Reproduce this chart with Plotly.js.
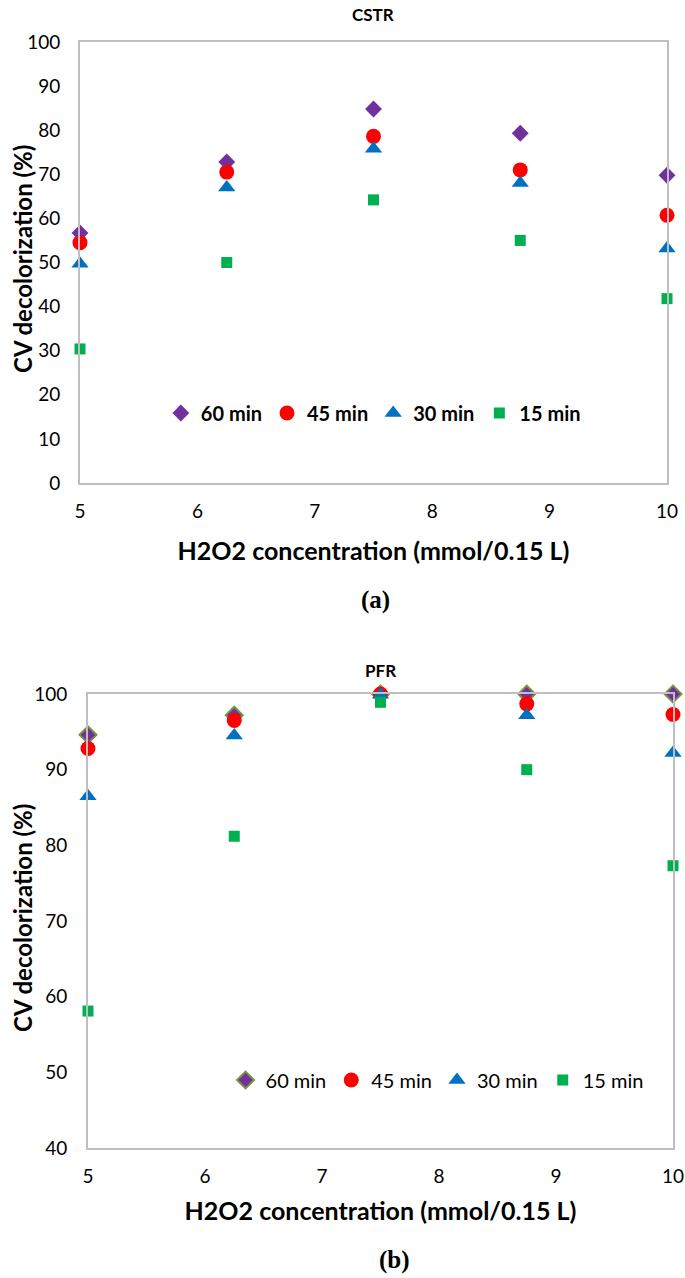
<!DOCTYPE html>
<html>
<head>
<meta charset="utf-8">
<script src="https://cdn.plot.ly/plotly-3.0.1.min.js"></script>
<style>
  html, body { margin: 0; padding: 0; background: #fff; }
  #chart { width: 685px; height: 1278px; }
</style>
</head>
<body>
<div id="chart"></div>
<script>
var config = { responsive: false, displayModeBar: false }

// H2O2 concentration (mmol/0.15 L)
var conc = [5, 6.25, 7.5, 8.75, 10]

// CSTR decolorization (%)
var cstr_60 = [56.7, 72.8, 84.8, 79.3, 69.8]
var cstr_45 = [54.5, 70.5, 78.6, 71.0, 60.7]
var cstr_30 = [49.7, 67.0, 75.8, 68.0, 53.2]
var cstr_15 = [30.4, 50.0, 64.2, 55.0, 41.8]

// PFR decolorization (%)
var pfr_60 = [94.6, 97.2, 100, 100, 100]
var pfr_45 = [92.8, 96.5, 100, 98.7, 97.3]
var pfr_30 = [86.5, 94.5, 99.9, 97.2, 92.2]
var pfr_15 = [58.1, 81.2, 98.9, 90.0, 77.3]

var names = ['60 min', '45 min', '30 min', '15 min']

function mk(y, name, ax, leg, marker) {
  return {
    x: conc, y: y, name: name, type: 'scatter', mode: 'markers',
    xaxis: ax[0], yaxis: ax[1], legend: leg, marker: marker, cliponaxis: false
  }
}

var data = [
  mk(cstr_60, names[0], ['x', 'y'], 'legend', { symbol: 'diamond', size: 13, color: '#7030A0' }),
  mk(cstr_45, names[1], ['x', 'y'], 'legend', { symbol: 'circle', size: 15, color: '#FF0000' }),
  mk(cstr_30, names[2], ['x', 'y'], 'legend', { symbol: 'triangle-up', size: 15, color: '#0070C0' }),
  mk(cstr_15, names[3], ['x', 'y'], 'legend', { symbol: 'square', size: 11, color: '#00B050' }),
  mk(pfr_60, names[0], ['x2', 'y2'], 'legend2', { symbol: 'diamond', size: 13, color: '#7030A0', line: { color: '#77933C', width: 2 } }),
  mk(pfr_45, names[1], ['x2', 'y2'], 'legend2', { symbol: 'circle', size: 15, color: '#FF0000' }),
  mk(pfr_30, names[2], ['x2', 'y2'], 'legend2', { symbol: 'triangle-up', size: 15, color: '#0070C0' }),
  mk(pfr_15, names[3], ['x2', 'y2'], 'legend2', { symbol: 'square', size: 11, color: '#00B050' })
]

var font = 'Lato, "Open Sans", sans-serif'
var axisBase = {
  showgrid: false, zeroline: false, showline: true, mirror: true,
  linecolor: '#BFBFBF', linewidth: 2, ticks: '',
  tickfont: { family: font, size: 19, color: '#000' }
}

function xax(domain, anchor, standoff) {
  return Object.assign({}, axisBase, {
    domain: domain, anchor: anchor, range: [5, 10], dtick: 1, ticklabelstandoff: 10,
    title: { text: '<b>H2O2 concentration (mmol/0.15 L)</b>', standoff: standoff,
      font: { family: font, size: 25, color: '#000' } }
  })
}
function yax(domain, anchor, range, dtick, tls) {
  return Object.assign({}, axisBase, {
    domain: domain, anchor: anchor, range: range, dtick: dtick, ticklabelstandoff: tls
  })
}

// y titles as rotated annotations so they sit where the original has them
function ytitle(y) {
  return {
    text: '<b>CV decolorization (%)</b>', x: 22 / 685, y: y, xref: 'paper', yref: 'paper',
    xanchor: 'center', yanchor: 'middle', textangle: -90, showarrow: false,
    font: { family: font, size: 24, color: '#000' }
  }
}

var layout = {
  width: 685, height: 1278,
  margin: { l: 0, r: 0, t: 0, b: 0 },
  paper_bgcolor: '#fff', plot_bgcolor: '#fff',
  font: { family: font, color: '#000' },
  xaxis: xax([80 / 685, 667 / 685], 'y', 22),
  yaxis: yax([1 - 483 / 1278, 1 - 42 / 1278], 'x', [0, 100], 10, 14),
  xaxis2: xax([88 / 685, 673 / 685], 'y2', 17),
  yaxis2: yax([1 - 1148 / 1278, 1 - 694 / 1278], 'x2', [40, 100], 10, 15),
  legend: {
    orientation: 'h', x: 0.545, y: 1 - 413 / 1278, xanchor: 'center', yanchor: 'middle',
    bgcolor: 'rgba(0,0,0,0)', font: { family: font, size: 20, weight: 'bold' },
    itemwidth: 30, traceorder: 'normal'
  },
  legend2: {
    orientation: 'h', x: 0.638, y: 1 - 1080 / 1278, xanchor: 'center', yanchor: 'middle',
    bgcolor: 'rgba(0,0,0,0)', font: { family: font, size: 20 },
    itemwidth: 30, traceorder: 'normal'
  },
  annotations: [
    ytitle(1 - 259 / 1278),
    ytitle(1 - 918 / 1278),
    { text: '<b>CSTR</b>', x: 373 / 685, y: 1 - 14 / 1278, xref: 'paper', yref: 'paper',
      xanchor: 'center', yanchor: 'middle', showarrow: false, font: { family: font, size: 17 } },
    { text: '<b>PFR</b>', x: 380 / 685, y: 1 - 670 / 1278, xref: 'paper', yref: 'paper',
      xanchor: 'center', yanchor: 'middle', showarrow: false, font: { family: font, size: 17 } },
    { text: '<b>(a)</b>', x: 375 / 685, y: 1 - 600 / 1278, xref: 'paper', yref: 'paper',
      xanchor: 'center', yanchor: 'middle', showarrow: false,
      font: { family: '"Liberation Serif", "DejaVu Serif", serif', size: 25 } },
    { text: '<b>(b)</b>', x: 394 / 685, y: 1 - 1260 / 1278, xref: 'paper', yref: 'paper',
      xanchor: 'center', yanchor: 'middle', showarrow: false,
      font: { family: '"Liberation Serif", "DejaVu Serif", serif', size: 25 } }
  ]
}

Plotly.newPlot('chart', data, layout, config)
</script>
</body>
</html>
